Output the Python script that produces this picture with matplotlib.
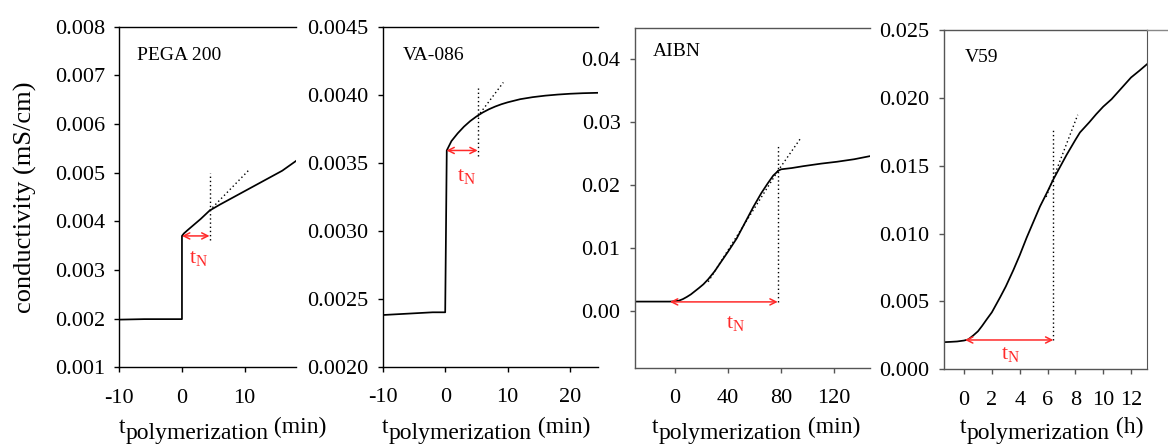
import matplotlib
matplotlib.use("Agg")
import matplotlib.pyplot as plt
from matplotlib.lines import Line2D
from matplotlib.ticker import FixedLocator, FixedFormatter

plt.rcParams['font.family'] = ['Liberation Serif', 'DejaVu Serif']
plt.rcParams['mathtext.fontset'] = 'custom'
plt.rcParams['mathtext.rm'] = 'Liberation Serif'
plt.rcParams['mathtext.it'] = 'Liberation Serif:italic'

W, H = 1168, 446

# ---- PEGA 200 (time in min, conductivity in mS/cm) ----
pega_t = [-10, -6, -2, 0, 0, 0.3, 1, 2, 3, 4.4, 6, 8, 10, 12, 14, 16, 18.3]
pega_k = [0.00198, 0.00199, 0.00199, 0.00199, 0.00370, 0.00375, 0.00383,
          0.00394, 0.00405, 0.00422, 0.00434, 0.00448, 0.00462, 0.00476,
          0.00490, 0.00504, 0.00525]
pega_tn = [0.0, 4.4]          # arrow span, min
pega_level = 0.0037
pega_vline = [0.00362, 0.00499]
pega_tangent_t = [4.4, 10.8]
pega_tangent_k = [0.00422, 0.00507]

# ---- VA-086 ----
va_t = [-10, -6, -2, 0, 0.25, 1, 2, 3, 4, 5, 6, 7, 8, 9, 10, 12, 14, 16,
        18, 20, 22, 24.5]
va_k = [0.00238, 0.00239, 0.00240, 0.00240, 0.00359, 0.003659, 0.003716,
        0.003765, 0.003806, 0.003840, 0.003869, 0.003893, 0.003913, 0.003930,
        0.003944, 0.003967, 0.003982, 0.003993, 0.004001, 0.004007, 0.004011,
        0.004014]
va_tn = [0.2, 5.2]
va_level = 0.00359
va_vline = [0.00355, 0.00405]
va_tangent_t = [5.2, 9.3]
va_tangent_k = [0.00384, 0.00409]

# ---- AIBN ----
aibn_t = [-30, -15, -4, 0, 3, 6, 9, 12, 15, 18, 21.4, 25, 30, 34, 40, 46.5,
          50, 55, 59, 65, 70, 74, 78, 80, 88, 96.7, 110, 122, 135, 147]
aibn_k = [0.00145, 0.00145, 0.00145, 0.0015, 0.0016, 0.00185, 0.0022,
          0.0026, 0.0031, 0.0036, 0.0042, 0.0050, 0.0063, 0.00755, 0.0094,
          0.0115, 0.0129, 0.0149, 0.0165, 0.0187, 0.0203, 0.0215, 0.0223,
          0.0225, 0.0227, 0.0230, 0.0234, 0.0237, 0.0241, 0.0246]
aibn_tn = [-3.8, 77.4]
aibn_level = 0.0014
aibn_vline = [0.0014, 0.0265]
aibn_tangent_t = [77.4, 94.2]
aibn_tangent_k = [0.0222, 0.0273]
aibn_fit_t = [25, 77.4]
aibn_fit_k = [0.0046, 0.0222]

# ---- V59 (time in h) ----
v59_t = [-1.44, -1, -0.5, 0, 0.3, 0.67, 1, 1.3, 1.63, 2, 2.59, 3, 3.54, 4,
         4.5, 5, 5.46, 6, 6.42, 7, 7.37, 8, 8.33, 9, 9.5, 10, 10.6, 11.3,
         12, 12.6, 13.17]
v59_k = [0.00200, 0.00202, 0.00205, 0.00212, 0.0022, 0.0025, 0.0028, 0.0032,
         0.00368, 0.0042, 0.0053, 0.0061, 0.0073, 0.0084, 0.0097, 0.0109,
         0.0120, 0.0131, 0.0140, 0.0151, 0.0158, 0.0169, 0.01745, 0.0182,
         0.0188, 0.01935, 0.0199, 0.0207, 0.0215, 0.0220, 0.0225]
v59_tn = [0.07, 6.42]
v59_level = 0.00216
v59_vline = [0.00216, 0.0178]
v59_tangent_t = [5.9, 8.17]
v59_tangent_k = [0.0127, 0.01875]

# ---- axis ticks ----
pega_xticks = [-10, 0, 10]
pega_yticks = [0.001, 0.002, 0.003, 0.004, 0.005, 0.006, 0.007, 0.008]
pega_ylabels = ['0.001', '0.002', '0.003', '0.004', '0.005', '0.006', '0.007', '0.008']
va_xticks = [-10, 0, 10, 20]
va_yticks = [0.0020, 0.0025, 0.0030, 0.0035, 0.0040, 0.0045]
va_ylabels = ['0.0020', '0.0025', '0.0030', '0.0035', '0.0040', '0.0045']
aibn_xticks = [0, 40, 80, 120]
aibn_yticks = [0.00, 0.01, 0.02, 0.03, 0.04]
aibn_ylabels = ['0.00', '0.01', '0.02', '0.03', '0.04']
v59_xticks = [0, 2, 4, 6, 8, 10, 12]
v59_yticks = [0.000, 0.005, 0.010, 0.015, 0.020, 0.025]
v59_ylabels = ['0.000', '0.005', '0.010', '0.015', '0.020', '0.025']

fig = plt.figure(figsize=(W / 100, H / 100), dpi=100)


def px_axes(l, t, r, b):
    return fig.add_axes([l / W, 1 - b / H, (r - l) / W, (b - t) / H])


def style(ax, xticks, yticks, ylabels, color, right=False):
    for side in ('left', 'top', 'bottom'):
        ax.spines[side].set_color(color)
        ax.spines[side].set_linewidth(1.0)
    ax.spines['right'].set_visible(right)
    ax.spines['right'].set_color(color)
    ax.xaxis.set_major_locator(FixedLocator(xticks))
    ax.xaxis.set_major_formatter(FixedFormatter([str(v) for v in xticks]))
    ax.yaxis.set_major_locator(FixedLocator(yticks))
    ax.yaxis.set_major_formatter(FixedFormatter(ylabels))
    ax.tick_params(direction='out', length=3.4, width=1.0, color=color,
                   labelsize=16, labelcolor='black')
    ax.tick_params(axis='x', pad=12)
    ax.tick_params(axis='y', pad=7)
    ax.set_facecolor('none')


def panel(ax, t, k, tn, level, vline, tan_t, tan_k, tn_xy):
    ax.plot(t, k, color='black', lw=1.25, solid_joinstyle='round')
    ax.plot([tn[1], tn[1]], vline, color='black', lw=1.0, ls=(0, (1, 2)))
    ax.plot(tan_t, tan_k, color='black', lw=1.0, ls=(0, (1, 2)))
    ax.annotate('', xy=(tn[0], level), xytext=(tn[1], level),
                arrowprops=dict(arrowstyle='<->', color='#ff2a2a', lw=1.1,
                                shrinkA=0, shrinkB=0, mutation_scale=11))
    ax.text(tn_xy[0], tn_xy[1], r't$_\mathregular{N}$', color='#ff2a2a',
            fontsize=16, ha='center', va='center')


ax1 = px_axes(119.3, 26.7, 296, 367.3)
ax1.set_xlim(-10, 18.2)
ax1.set_ylim(0.001, 0.008)
style(ax1, pega_xticks, pega_yticks, pega_ylabels, 'black')
panel(ax1, pega_t, pega_k, pega_tn, pega_level, pega_vline,
      pega_tangent_t, pega_tangent_k, (2.65, 0.00324))

ax2 = px_axes(382.7, 26.7, 598, 366.7)
ax2.set_xlim(-10, 24.45)
ax2.set_ylim(0.0020, 0.0045)
style(ax2, va_xticks, va_yticks, va_ylabels, 'black')
panel(ax2, va_t, va_k, va_tn, va_level, va_vline,
      va_tangent_t, va_tangent_k, (3.5, 0.0034))

ax3 = px_axes(635, 27.7, 870, 367.7)
ax3.set_xlim(-30.1, 146.9)
ax3.set_ylim(-0.00907, 0.04503)
style(ax3, aibn_xticks, aibn_yticks, aibn_ylabels, '#555555')
panel(ax3, aibn_t, aibn_k, aibn_tn, aibn_level, aibn_vline,
      aibn_tangent_t, aibn_tangent_k, (45.7, -0.0020))
ax3.plot(aibn_fit_t, aibn_fit_k, color='black', lw=1.0, ls=(0, (1, 2)))

ax4 = px_axes(944, 30, 1147.3, 369.3)
ax4.set_xlim(-1.44, 13.17)
ax4.set_ylim(0.0, 0.025)
style(ax4, v59_xticks, v59_yticks, v59_ylabels, '#555555', right=True)
panel(ax4, v59_t, v59_k, v59_tn, v59_level, v59_vline,
      v59_tangent_t, v59_tangent_k, (3.38, 0.0011))

# frame line continuing past the last panel
fig.add_artist(Line2D([1147.3 / W, 1.0], [1 - 30 / H, 1 - 30 / H],
                      color='#888888', lw=1.0))

# panel names
for name, x, y in [('PEGA 200', 137, 55), ('VA-086', 403, 55),
                   ('AIBN', 653, 52), ('V59', 965, 57)]:
    fig.text(x / W, 1 - y / H, name, fontsize=14, ha='left', va='center')

# y axis title
fig.text(25 / W, 1 - 197 / H, 'conductivity (mS/cm)', rotation=90,
         fontsize=19, ha='center', va='center')


def time_label(ax, x_px, unit):
    t1 = fig.text(x_px / W, 1 - 433 / H, 't', fontsize=17, va='baseline', ha='left')
    t2 = ax.annotate('polymerization', xy=(1, 0), xycoords=t1,
                     xytext=(0, -4), textcoords='offset points',
                     fontsize=17, ha='left', va='bottom', annotation_clip=False)
    ax.annotate(' (%s)' % unit, xy=(1, 0), xycoords=t2,
                xytext=(0, 4), textcoords='offset points',
                fontsize=17, ha='left', va='bottom', annotation_clip=False)


time_label(ax1, 119, 'min')
time_label(ax2, 382, 'min')
time_label(ax3, 652, 'min')
time_label(ax4, 960, 'h')

fig.savefig('out.png', dpi=100)
